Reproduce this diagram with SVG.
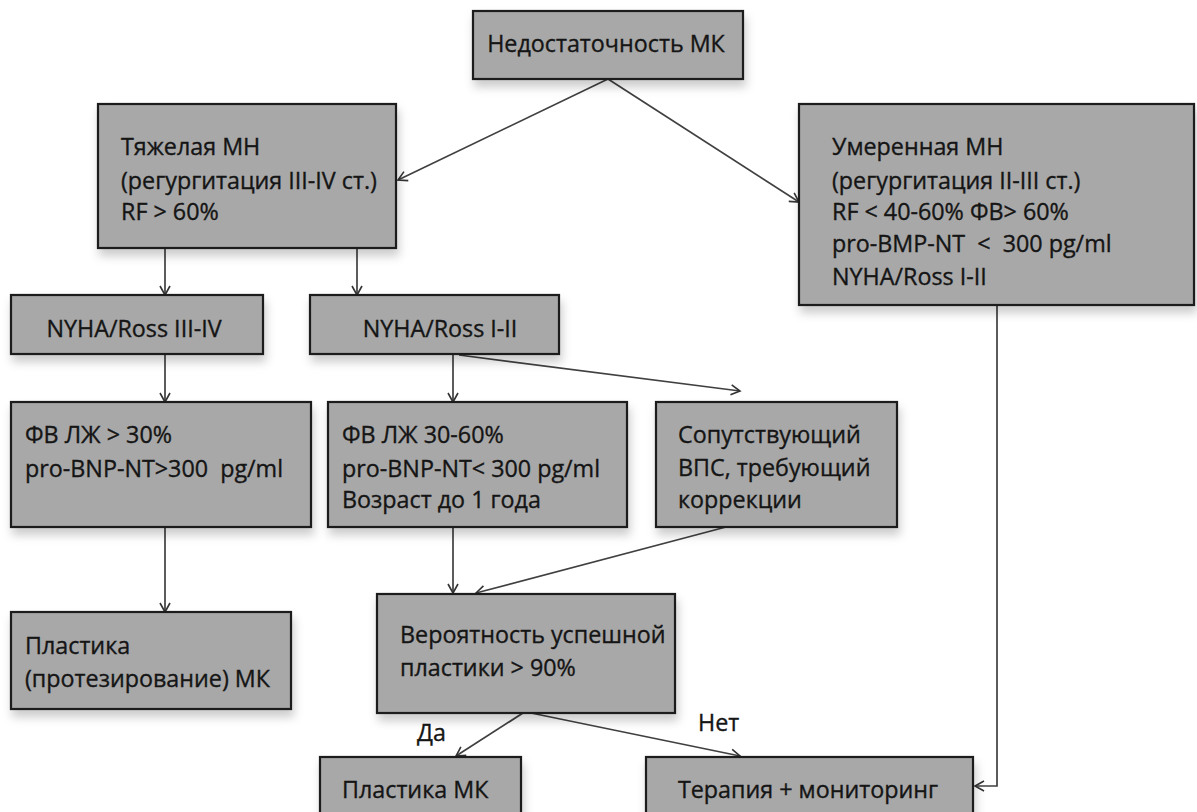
<svg xmlns="http://www.w3.org/2000/svg" width="1197" height="812" viewBox="0 0 1197 812">
<defs>
<filter id="sh" x="-10%" y="-10%" width="125%" height="140%">
<feDropShadow dx="2" dy="7" stdDeviation="5" flood-color="#000" flood-opacity="0.2"/>
</filter>
<marker id="ah" markerWidth="12" markerHeight="12" refX="10" refY="6" orient="auto" markerUnits="userSpaceOnUse">
<path d="M1,1 L10,6 L1,11" fill="none" stroke="#333" stroke-width="1.6"/>
</marker>
</defs>
<style>
.box{fill:#a8a8a8;stroke:#1c1c1c;stroke-width:2.2;filter:url(#sh)}
text{font-family:"Open Sans","Noto Sans","DejaVu Sans",sans-serif;font-size:23.3px;fill:#151515;stroke:#151515;stroke-width:0.35}
.c{text-anchor:middle}
.cn path,.cn line,.cn polyline{fill:none;stroke:#404040;stroke-width:1.7;marker-end:url(#ah)}
</style>
<rect width="1197" height="812" fill="#fff"/>
<g class="cn" id="connectors">
<line x1="608" y1="79" x2="398" y2="180"/>
<line x1="608" y1="79" x2="799" y2="202"/>
<line x1="165" y1="248" x2="165" y2="295"/>
<line x1="357" y1="248" x2="357" y2="295"/>
<line x1="165" y1="354" x2="165" y2="402"/>
<line x1="453" y1="354" x2="453" y2="402"/>
<line x1="459" y1="355" x2="740" y2="391"/>
<line x1="165" y1="527" x2="165" y2="612"/>
<line x1="453" y1="527" x2="453" y2="593"/>
<line x1="726" y1="527" x2="476" y2="593"/>
<line x1="523" y1="713" x2="456" y2="756"/>
<line x1="531" y1="713" x2="740" y2="756"/>
<polyline points="997,305 997,786 975,786"/>
</g>
<g id="n-root">
<rect class="box" x="473" y="11" width="270" height="68"/>
<text class="c" x="606" y="52">Недостаточность МК</text>
</g>
<g id="n-severe">
<rect class="box" x="98" y="104" width="298" height="144"/>
<text x="121" y="155">Тяжелая МН</text>
<text x="121" y="189">(регургитация III-IV ст.)</text>
<text x="121" y="220">RF &gt; 60%</text>
</g>
<g id="n-moderate">
<rect class="box" x="799" y="104" width="395" height="201"/>
<text x="832" y="155">Умеренная МН</text>
<text x="832" y="189">(регургитация II-III ст.)</text>
<text x="832" y="220">RF &lt; 40-60% ФВ&gt; 60%</text>
<text x="832" y="252" xml:space="preserve">pro-BMP-NT  &lt;  300 pg/ml</text>
<text x="832" y="285">NYHA/Ross I-II</text>
</g>
<g id="n-nyha34">
<rect class="box" x="11" y="295" width="252" height="59"/>
<text class="c" x="134" y="337">NYHA/Ross III-IV</text>
</g>
<g id="n-nyha12">
<rect class="box" x="310" y="295" width="249" height="59"/>
<text class="c" x="440" y="337">NYHA/Ross I-II</text>
</g>
<g id="n-ef30">
<rect class="box" x="11" y="402" width="300" height="125"/>
<text x="25" y="443">ФВ ЛЖ &gt; 30%</text>
<text x="25" y="477" xml:space="preserve">pro-BNP-NT&gt;300  pg/ml</text>
</g>
<g id="n-ef3060">
<rect class="box" x="328" y="402" width="299" height="125"/>
<text x="342" y="443">ФВ ЛЖ 30-60%</text>
<text x="342" y="477">pro-BNP-NT&lt; 300 pg/ml</text>
<text x="342" y="508">Возраст до 1 года</text>
</g>
<g id="n-chd">
<rect class="box" x="656" y="402" width="241" height="125"/>
<text x="678" y="443">Сопутствующий</text>
<text x="678" y="476">ВПС, требующий</text>
<text x="678" y="508">коррекции</text>
</g>
<g id="n-prosth">
<rect class="box" x="11" y="612" width="280" height="97"/>
<text x="25" y="654">Пластика</text>
<text x="25" y="687">(протезирование) МК</text>
</g>
<g id="n-prob">
<rect class="box" x="377" y="594" width="298" height="119"/>
<text x="400" y="643">Вероятность успешной</text>
<text x="400" y="676">пластики &gt; 90%</text>
</g>
<g id="n-plastic">
<rect class="box" x="320" y="757" width="201" height="80"/>
<text x="342" y="798">Пластика МК</text>
</g>
<g id="n-therapy">
<rect class="box" x="646" y="757" width="327" height="80"/>
<text class="c" x="808" y="798">Терапия + мониторинг</text>
</g>
<g id="labels">
<text x="417" y="741">Да</text>
<text x="698" y="731">Нет</text>
</g>
</svg>
